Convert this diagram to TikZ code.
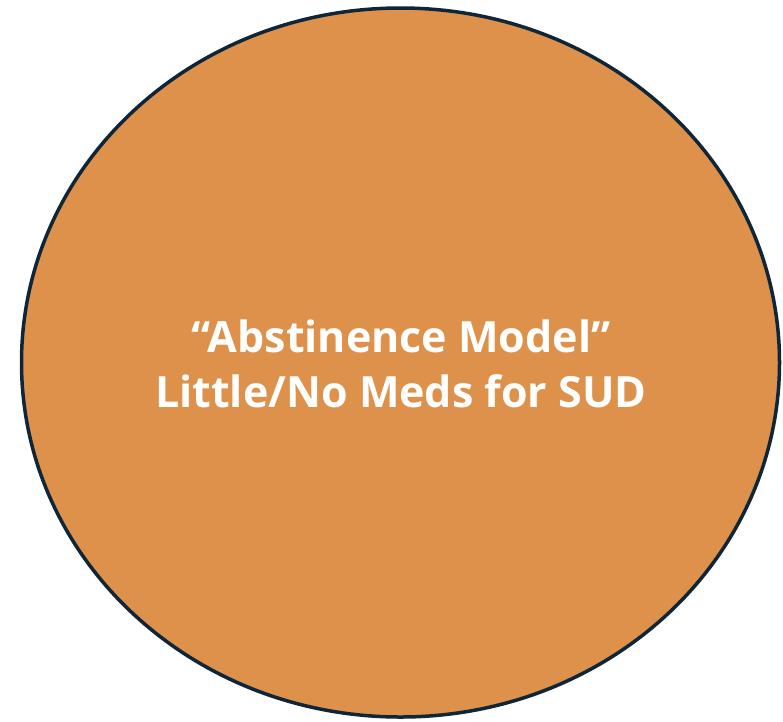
\documentclass[tikz,border=0pt]{standalone}
\usepackage{fontspec}
\usetikzlibrary{shapes.geometric}
\setmainfont[Ligatures=NoCommon]{Open Sans}
\definecolor{discfill}{HTML}{DE914A}
\definecolor{discline}{HTML}{0E2637}
\begin{document}
\begin{tikzpicture}[x=1pt,y=-1pt,
  disc/.style={ellipse, draw=discline, line width=3.5pt, fill=discfill,
    minimum width=758pt, minimum height=709pt, inner sep=0pt},
  disclabel/.style={text=white, font=\fontsize{43}{55}\selectfont\bfseries,
    align=center}]
\useasboundingbox (0,0) rectangle (783,721);
\node[disc] (model) at (400.5,362.5) {};
\node[disclabel] (caption) at (401,364) {“Abstinence Model”\\Little/No Meds for SUD};
\end{tikzpicture}
\end{document}
